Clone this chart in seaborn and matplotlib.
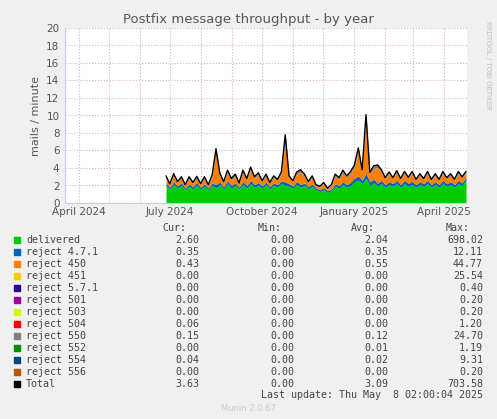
import matplotlib
matplotlib.use("Agg")
import matplotlib.pyplot as plt
import matplotlib.dates as mdates
import seaborn as sns
import pandas as pd
import numpy as np

sns.set_style("white")
plt.rcParams["font.family"] = ["DejaVu Sans"]

# values (mails / minute), ~4 day steps
delivered = [2.0, 1.6, 2.1, 1.7, 2.0, 1.5, 1.9, 1.6, 2.0, 1.6,
             1.9, 1.5, 2.0, 1.7, 2.1, 1.6, 2.2, 1.7, 2.0, 1.6,
             2.1, 1.7, 2.2, 1.8, 2.0, 1.7, 2.1, 1.6, 2.0, 1.8,
             2.2, 2.0, 1.9, 1.7, 2.1, 1.8, 2.0, 1.6, 1.9, 1.5,
             1.3, 1.5, 1.2, 1.4, 1.9, 1.7, 2.1, 1.8, 2.0, 2.4,
             2.6, 2.2, 2.8, 2.0, 2.3, 1.9, 2.2, 1.8, 2.1, 1.9,
             2.2, 1.8, 2.2, 1.9, 2.1, 1.8, 2.1, 1.9, 2.2, 1.8,
             2.1, 1.8, 2.2, 1.9, 2.1, 1.8, 2.2, 2.0, 2.6]
rej471 = [0.3, 0.2, 0.35, 0.25, 0.3, 0.2, 0.3, 0.25, 0.35, 0.2,
          0.3, 0.2, 0.3, 0.4, 0.3, 0.25, 0.35, 0.3, 0.3, 0.2,
          0.35, 0.3, 0.4, 0.3, 0.35, 0.25, 0.3, 0.25, 0.3, 0.3,
          0.35, 0.4, 0.3, 0.25, 0.35, 0.3, 0.3, 0.25, 0.3, 0.2,
          0.2, 0.25, 0.2, 0.2, 0.3, 0.3, 0.35, 0.3, 0.4, 0.45,
          0.5, 0.4, 0.6, 0.4, 0.45, 0.35, 0.4, 0.3, 0.35, 0.3,
          0.4, 0.3, 0.4, 0.35, 0.4, 0.3, 0.35, 0.3, 0.4, 0.3,
          0.35, 0.3, 0.4, 0.3, 0.35, 0.3, 0.4, 0.3, 0.35]
rej450 = [0.6, 0.3, 0.7, 0.4, 0.5, 0.3, 0.6, 0.4, 0.5, 0.3,
          0.6, 0.3, 0.7, 3.8, 0.8, 0.5, 0.9, 0.6, 0.8, 0.4,
          1.0, 0.6, 1.2, 0.7, 0.9, 0.5, 0.7, 0.4, 0.6, 0.5,
          0.8, 5.0, 0.7, 0.5, 0.9, 1.4, 0.8, 0.5, 0.7, 0.3,
          0.3, 0.5, 0.2, 0.4, 0.9, 0.7, 1.1, 0.8, 1.0, 1.2,
          2.8, 1.0, 6.2, 0.9, 1.2, 1.8, 1.0, 0.7, 0.9, 0.6,
          0.9, 0.6, 0.8, 0.6, 0.9, 0.5, 0.7, 0.5, 0.8, 0.5,
          0.7, 0.5, 0.8, 0.6, 0.7, 0.5, 0.8, 0.6, 0.5]
rej550 = [0.2, 0.1, 0.2, 0.1, 0.2, 0.1, 0.2, 0.1, 0.2, 0.1,
          0.2, 0.1, 0.2, 0.3, 0.2, 0.1, 0.3, 0.2, 0.2, 0.1,
          0.3, 0.2, 0.3, 0.2, 0.2, 0.1, 0.2, 0.1, 0.2, 0.1,
          0.2, 0.4, 0.2, 0.1, 0.2, 0.3, 0.2, 0.1, 0.2, 0.1,
          0.1, 0.1, 0.1, 0.1, 0.2, 0.2, 0.2, 0.2, 0.2, 0.3,
          0.4, 0.2, 0.5, 0.2, 0.3, 0.3, 0.2, 0.1, 0.2, 0.1,
          0.2, 0.1, 0.2, 0.1, 0.2, 0.1, 0.2, 0.1, 0.2, 0.1,
          0.2, 0.1, 0.2, 0.1, 0.2, 0.1, 0.2, 0.1, 0.15]
dates = pd.date_range("2024-06-27", "2025-04-23", periods=len(delivered))

series = [("delivered", delivered, "#00cc00"),
          ("reject 4.7.1", rej471, "#0066b3"),
          ("reject 450", rej450, "#ff8000"),
          ("reject 550", rej550, "#808080")]

legend_names = ["delivered", "reject 4.7.1", "reject 450", "reject 451", "reject 5.7.1",
                "reject 501", "reject 503", "reject 504", "reject 550", "reject 552",
                "reject 554", "reject 556", "Total"]
legend_colors = ["#00cc00", "#0066b3", "#ff8000", "#ffcc00", "#330099", "#990099",
                 "#ccff00", "#ff0000", "#808080", "#008f00", "#00487d", "#b35a00", "#000000"]
cur = ["2.60", "0.35", "0.43", "0.00", "0.00", "0.00", "0.00", "0.06", "0.15", "0.00", "0.04", "0.00", "3.63"]
mins = ["0.00"] * 13
avg = ["2.04", "0.35", "0.55", "0.00", "0.00", "0.00", "0.00", "0.00", "0.12", "0.01", "0.02", "0.00", "3.09"]
mx = ["698.02", "12.11", "44.77", "25.54", "0.40", "0.20", "0.20", "1.20", "24.70", "1.19", "9.31", "0.20", "703.58"]

W, H = 497, 419
fig = plt.figure(figsize=(W / 100, H / 100), dpi=100, facecolor="#f0f0f0")
ax = fig.add_axes([65 / W, 1 - 203 / H, 402 / W, 175 / H])
ax.set_facecolor("white")

base = np.zeros(len(dates))
for name, vals, col in series:
    v = np.array(vals)
    ax.fill_between(dates, base, base + v, color=col, lw=0)
    base = base + v
sns.lineplot(x=dates, y=base, ax=ax, color="black", lw=1)

ax.set_xlim(pd.Timestamp("2024-03-18"), pd.Timestamp("2025-04-24"))
ax.set_ylim(0, 20)
ax.set_yticks(range(0, 21, 2))
ax.xaxis.set_major_locator(mdates.MonthLocator(bymonth=[1, 4, 7, 10]))
ax.xaxis.set_major_formatter(mdates.DateFormatter("%B %Y"))
ax.xaxis.set_minor_locator(mdates.MonthLocator())
ax.grid(True, which="both", color="#e0b0b0", ls=":", lw=0.8)
ax.tick_params(labelsize=7.5, colors="#555555", length=0)
ax.tick_params(axis="y", pad=4)
ax.tick_params(axis="x", pad=3)
for s in ["top", "right"]:
    ax.spines[s].set_visible(False)
for s in ["left", "bottom"]:
    ax.spines[s].set_color("#c8c8ff")
ax.set_ylabel("mails / minute", fontsize=8, color="#555555")
ax.set_xlabel("")
fig.text(0.5, 1 - 19 / H, "Postfix message throughput - by year", ha="center", va="center",
         fontsize=9.5, color="#555555")
fig.text(488 / W, 1 - 65 / H, "RRDTOOL / TOBI OETIKER", rotation=270, ha="center", va="center",
         fontsize=5, color="#c0c0c0")

mono = dict(family="DejaVu Sans Mono", fontsize=7.2, color="#444444", va="center")
y0 = 228
for x, t in [(186, "Cur:"), (282, "Min:"), (375, "Avg:"), (470, "Max:")]:
    fig.text(x / W, 1 - y0 / H, t, ha="right", **mono)
for i, name in enumerate(legend_names):
    y = 1 - (y0 + 12 * (i + 1)) / H
    fig.patches.append(plt.Rectangle((14 / W, y - 3 / H), 6 / W, 6 / H, color=legend_colors[i],
                                     transform=fig.transFigure, figure=fig))
    fig.text(26 / W, y, name, ha="left", **mono)
    for x, col in [(199, cur), (294, mins), (388, avg), (483, mx)]:
        fig.text(x / W, y, col[i], ha="right", **mono)
fig.text(483 / W, 1 - 395 / H, "Last update: Thu May  8 02:00:04 2025", ha="right", **mono)
fig.text(248 / W, 1 - 408 / H, "Munin 2.0.67", ha="center", va="center", fontsize=6, color="#cccccc")

fig.savefig("out.png", dpi=100, facecolor=fig.get_facecolor())
